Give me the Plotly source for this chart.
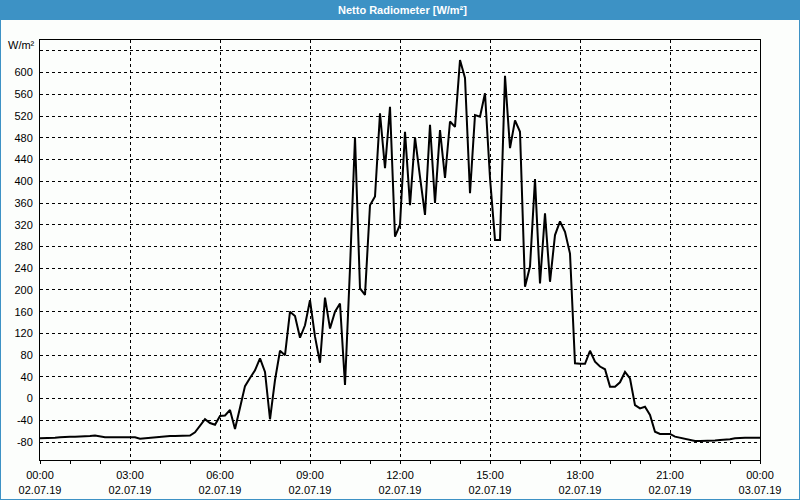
import pandas as pd
import plotly.graph_objects as go

# ---- data (10-minute samples, 02.07.19 00:00 -> 03.07.19 00:00) ----
start_time = "2019-07-02 00:00"
values = [
    -73, -73, -72, -72, -71, -70, -70, -70, -70, -69, -69, -68,      # 00:00-01:50
    -70, -71, -71, -71, -70, -70, -70, -71, -74, -73, -72, -72,      # 02:00-03:50
    -71, -70, -69, -69, -69, -69, -68, -62, -50, -38, -45, -48,      # 04:00-05:50
    -32, -31, -21, -56, -17, 23, 38, 52, 74, 49, -38, 34,            # 06:00-07:50
    88, 80, 160, 152, 112, 135, 181, 114, 66, 186, 129, 160,         # 08:00-09:50
    175, 25, 240, 481, 203, 191, 356, 372, 525, 424, 537, 298,       # 10:00-11:50
    320, 491, 356, 481, 408, 338, 504, 360, 494, 406, 510, 500,      # 12:00-13:50
    623, 590, 378, 522, 519, 562, 406, 292, 292, 594, 461, 512,      # 14:00-15:50
    491, 206, 243, 404, 212, 341, 215, 301, 326, 307, 267, 65,       # 16:00-17:50
    64, 64, 88, 68, 59, 54, 22, 22, 30, 49, 37, -12,                 # 18:00-19:50
    -18, -15, -30, -61, -65, -65, -65, -70, -72, -75, -77, -78,      # 20:00-21:50
    -78, -78, -78, -77, -76, -76, -75, -73, -72, -72, -72, -72,      # 22:00-23:50
    -72,                                                             # 24:00
]
times = pd.date_range(start_time, periods=len(values), freq="10min")

x_tick_times = ["2019-07-02 00:00", "2019-07-02 03:00", "2019-07-02 06:00",
                "2019-07-02 09:00", "2019-07-02 12:00", "2019-07-02 15:00",
                "2019-07-02 18:00", "2019-07-02 21:00", "2019-07-03 00:00"]
x_tick_text = ["00:00<br>02.07.19", "03:00<br>02.07.19", "06:00<br>02.07.19",
               "09:00<br>02.07.19", "12:00<br>02.07.19", "15:00<br>02.07.19",
               "18:00<br>02.07.19", "21:00<br>02.07.19", "00:00<br>03.07.19"]
y_tick_vals = [-80, -40, 0, 40, 80, 120, 160, 200, 240, 280, 320, 360, 400,
               440, 480, 520, 560, 600, 640]
y_tick_text = [str(v) for v in y_tick_vals[:-1]] + [""]

title_text = "Netto Radiometer [W/m²]"
unit_text = "W/m²"

# ---- layout geometry (pixels) ----
W, H = 800, 500
L, R, T, B = 40, 40, 40, 40
PW, PH = W - L - R, H - T - B


def px(x):
    return (x - L) / PW


def py(y):
    return (H - B - y) / PH


BLUE = "#3d92c5"
BG = "#fcfefc"
FONT = "Liberation Sans"

fig = go.Figure()
fig.add_trace(go.Scatter(x=times, y=values, mode="lines",
                         line=dict(color="#000000", width=2),
                         hoverinfo="skip"))

fig.update_layout(
    width=W, height=H,
    margin=dict(l=L, r=R, t=T, b=B, autoexpand=False),
    paper_bgcolor=BG, plot_bgcolor=BG,
    showlegend=False,
    font=dict(family=FONT, size=11, color="#000000"),
    xaxis=dict(
        range=[times[0], times[-1]],
        tickmode="array", tickvals=x_tick_times, ticktext=x_tick_text,
        ticks="outside", ticklen=3, tickwidth=1, tickcolor="#000000",
        ticklabelstandoff=2,
        minor=dict(dtick=3600000, ticks="outside", ticklen=3,
                   tickcolor="#000000", showgrid=False),
        showgrid=True, gridcolor="#000000", gridwidth=1, griddash="3px,3px",
        showline=True, linecolor="#000000", linewidth=1, mirror=True,
        zeroline=False, fixedrange=True,
        tickfont=dict(family=FONT, size=11, color="#000000"),
    ),
    yaxis=dict(
        range=[-113, 660],
        tickmode="array", tickvals=y_tick_vals, ticktext=y_tick_text,
        ticks="", ticklabelstandoff=4,
        showgrid=True, gridcolor="#000000", gridwidth=1, griddash="3px,3px",
        showline=True, linecolor="#000000", linewidth=1, mirror=True,
        zeroline=False, fixedrange=True,
        tickfont=dict(family=FONT, size=11, color="#000000"),
    ),
    shapes=[
        dict(type="rect", xref="paper", yref="paper",
             x0=px(0), x1=px(W), y0=py(H), y1=py(0),
             line=dict(color=BLUE, width=2), fillcolor="rgba(0,0,0,0)",
             layer="above"),
        dict(type="rect", xref="paper", yref="paper",
             x0=px(0), x1=px(W), y0=py(20), y1=py(0),
             line=dict(width=0), fillcolor=BLUE, layer="below"),
    ],
    annotations=[
        dict(text="<b>" + title_text + "</b>", xref="paper", yref="paper",
             x=px(402), y=py(10), xanchor="center", yanchor="middle",
             showarrow=False, font=dict(family=FONT, size=11, color="#ffffff")),
        dict(text=unit_text, xref="paper", yref="paper",
             x=px(37), y=py(45), xanchor="right", yanchor="middle",
             showarrow=False, font=dict(family=FONT, size=11, color="#000000")),
    ],
)

fig.write_html("out.html", config={"displayModeBar": False})
